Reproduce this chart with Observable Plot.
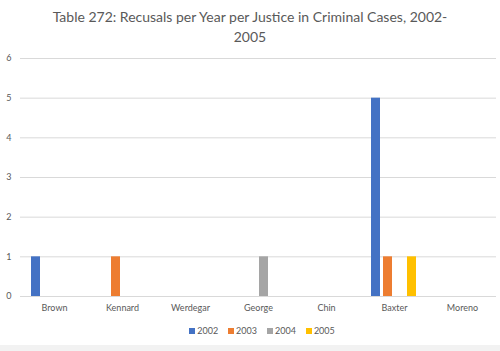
<!DOCTYPE html>
<html>
<head>
<meta charset="utf-8">
<script src="https://cdn.jsdelivr.net/npm/d3@7"></script>
<script src="https://cdn.jsdelivr.net/npm/@observablehq/plot@0.6"></script>
<style>
  body { margin: 0; background: #fff; font-family: Lato, "Open Sans", sans-serif; }
  #wrap { position: relative; width: 500px; height: 351px; overflow: hidden; background: #fff; }
  #title { position: absolute; top: 7px; left: 0; width: 500px; text-align: center; font-size: 14px; line-height: 20px; color: #595959; }
  #chart { position: absolute; top: 50px; left: 0; }
  #legend { position: absolute; top: 324px; left: 12px; width: 500px; display: flex; justify-content: center; gap: 10px; font-size: 9px; color: #595959; line-height: 14px; }
  #legend span.item { display: inline-flex; align-items: center; gap: 2px; }
  #legend span.sw { display: inline-block; width: 6px; height: 6px; }
  #footer { position: absolute; top: 345px; left: 0; width: 500px; height: 6px; background: #f2f2f2; }
</style>
</head>
<body>
<div id="wrap">
  <div id="title">Table 272: Recusals per Year per Justice in Criminal Cases, 2002-<br>2005</div>
  <div id="chart"></div>
  <div id="legend"></div>
  <div id="footer"></div>
</div>
<script>
const justices = ["Brown", "Kennard", "Werdegar", "George", "Chin", "Baxter", "Moreno"];
const years = ["2002", "2003", "2004", "2005"];
const colors = ["#4472C4", "#ED7D31", "#A5A5A5", "#FFC000"];
const v2002 = [1, 0, 0, 0, 0, 5, 0];
const v2003 = [0, 1, 0, 0, 0, 1, 0];
const v2004 = [0, 0, 0, 1, 0, 0, 0];
const v2005 = [0, 0, 0, 0, 0, 1, 0];
const yTicks = [0, 1, 2, 3, 4, 5, 6];

const series = [v2002, v2003, v2004, v2005];
const data = [];
justices.forEach((j, ji) => {
  years.forEach((y, yi) => {
    data.push({justice: j, year: y, value: series[yi][ji]});
  });
});

const plot = Plot.plot({
  width: 500,
  height: 270,
  marginLeft: 19,
  marginRight: 3,
  marginTop: 8,
  marginBottom: 24,
  style: {fontFamily: "Lato, 'Open Sans', sans-serif", fontSize: "9px", color: "#595959", background: "transparent"},
  fx: {domain: justices, padding: 0, label: null, tickSize: 0, tickPadding: 8, axis: "bottom"},
  x: {domain: years, paddingInner: 0.22, paddingOuter: 0.91, axis: null},
  y: {domain: [0, 6], ticks: yTicks, tickFormat: "d", grid: true, label: null, tickSize: 0, tickPadding: 9},
  color: {domain: years, range: colors},
  marks: [
    Plot.barY(data, {fx: "justice", x: "year", y: "value", fill: "year"})
  ]
});
d3.select(plot).selectAll("line").filter(function() { return this.closest("[aria-label*='grid']"); }).attr("stroke", "#d9d9d9").attr("stroke-opacity", 1);
document.getElementById("chart").appendChild(plot);

const legend = d3.select("#legend");
years.forEach((y, i) => {
  const it = legend.append("span").attr("class", "item");
  it.append("span").attr("class", "sw").style("background", colors[i]);
  it.append("span").text(y);
});
</script>
</body>
</html>
